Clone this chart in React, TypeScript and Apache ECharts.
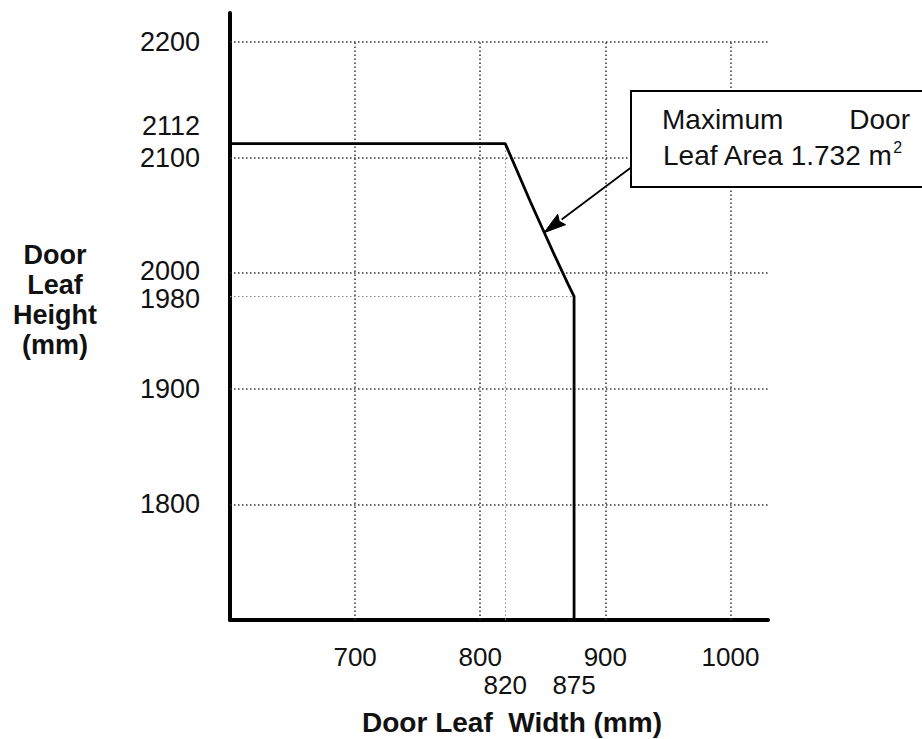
import React, { useEffect, useRef } from "react";
import * as echarts from "echarts";

// Limit curve (door leaf width, height) in mm
const widths = [600, 820, 830, 840, 850, 860, 870, 875, 875];
const heights = [2112, 2112, 2087, 2062, 2038, 2014, 1991, 1980, 1700];

// Tick labels
const xTickLabels = [700, 800, 900, 1000];
const xExtraTicks = [820, 875];
const yTickLabels = [1800, 1900, 2000, 2100, 2200];
const yExtraTicks = [2112, 1980];

// Grid lines
const gridX = [700, 800, 900, 1000];
const gridY = [1800, 1900, 2000, 2100, 2200];

// Axis ranges
const xMin = 600;
const xMax = 1030;
const yMin = 1700;
const yMax = 2225;

// Annotation arrow (start at box edge, tip at curve): [x0, y0, x1, y1]
const arrowFrom = [920, 2091];
const arrowTo = [851, 2035];

const FONT = "'Liberation Sans', Arial, sans-serif";

export default function App() {
  const ref = useRef<HTMLDivElement>(null);

  useEffect(() => {
    if (!ref.current) return;
    const chart = echarts.init(ref.current, null, { renderer: "svg" });

    const dotted = { type: [1.5, 2.5] as any, color: "#333", width: 1.5 };
    const dottedLight = { type: [1.5, 2.5] as any, color: "#888", width: 1 };

    const gridLines: any[] = [];
    gridX.forEach((x) =>
      gridLines.push([
        { coord: [x, yMin], lineStyle: dotted },
        { coord: [x, 2200] },
      ])
    );
    gridY.forEach((y) =>
      gridLines.push([
        { coord: [xMin, y], lineStyle: dotted },
        { coord: [xMax, y] },
      ])
    );
    gridLines.push([
      { coord: [xExtraTicks[0], yMin], lineStyle: dottedLight },
      { coord: [xExtraTicks[0], yExtraTicks[0]] },
    ]);
    gridLines.push([
      { coord: [xMin, yExtraTicks[1]], lineStyle: dottedLight },
      { coord: [xExtraTicks[1], yExtraTicks[1]] },
    ]);

    const yValues = [...yTickLabels, ...yExtraTicks].sort((a, b) => a - b);

    chart.setOption({
      animation: false,
      backgroundColor: "#fff",
      grid: { left: 230, right: 154, top: 13, bottom: 119 },
      xAxis: [
        {
          type: "value",
          min: xMin,
          max: xMax,
          axisLine: { show: true, lineStyle: { color: "#000", width: 4 } },
          axisTick: { show: false },
          splitLine: { show: false },
          axisLabel: {
            customValues: xTickLabels,
            margin: 24,
            fontSize: 26,
            fontFamily: FONT,
            color: "#111",
            formatter: (v: number) => String(v),
          },
        },
        {
          type: "value",
          min: xMin,
          max: xMax,
          position: "bottom",
          offset: 28,
          axisLine: { show: false },
          axisTick: { show: false },
          splitLine: { show: false },
          axisLabel: {
            customValues: xExtraTicks,
            margin: 24,
            fontSize: 26,
            fontFamily: FONT,
            color: "#111",
            formatter: (v: number) => String(v),
          },
        },
      ],
      yAxis: {
        type: "value",
        min: yMin,
        max: yMax,
        axisLine: { show: true, lineStyle: { color: "#000", width: 4 } },
        axisTick: { show: false },
        splitLine: { show: false },
        axisLabel: {
          customValues: yValues,
          margin: 30,
          fontSize: 27,
          lineHeight: 22,
          fontFamily: FONT,
          color: "#111",
          formatter: (v: number) => {
            if (v === yExtraTicks[0]) return "{up|" + v + "}";
            if (v === yExtraTicks[1]) return "{dn|" + v + "}";
            if (v === 2000) return "{up2|" + v + "}";
            return String(v);
          },
          rich: {
            up: { fontSize: 27, fontFamily: FONT, color: "#111", lineHeight: 22, padding: [0, 0, 36, 0] },
            dn: { fontSize: 27, fontFamily: FONT, color: "#111", lineHeight: 22, padding: [6, 0, 0, 0] },
            up2: { fontSize: 27, fontFamily: FONT, color: "#111", lineHeight: 22, padding: [0, 0, 4, 0] },
          },
        },
      },
      series: [
        {
          type: "line",
          name: "grid",
          data: [],
          silent: true,
          z: 1,
          markLine: {
            silent: true,
            symbol: ["none", "none"],
            label: { show: false },
            data: gridLines,
          },
        },
        {
          type: "line",
          name: "limit",
          data: widths.map((w, i) => [w, heights[i]]),
          symbol: "none",
          lineStyle: { color: "#000", width: 2.8 },
          z: 5,
        },
        {
          type: "custom",
          name: "arrow",
          silent: true,
          z: 6,
          data: [[arrowFrom[0], arrowFrom[1], arrowTo[0], arrowTo[1]]],
          renderItem: (params: any, api: any) => {
            const p0 = api.coord([api.value(0), api.value(1)]);
            const p1 = api.coord([api.value(2), api.value(3)]);
            const dx = p1[0] - p0[0];
            const dy = p1[1] - p0[1];
            const len = Math.sqrt(dx * dx + dy * dy);
            const ux = dx / len;
            const uy = dy / len;
            const headLen = 22;
            const halfW = 6.5;
            const bx = p1[0] - ux * headLen;
            const by = p1[1] - uy * headLen;
            return {
              type: "group",
              children: [
                {
                  type: "line",
                  shape: { x1: p0[0], y1: p0[1], x2: bx, y2: by },
                  style: { stroke: "#000", lineWidth: 1.8 },
                },
                {
                  type: "polygon",
                  shape: {
                    points: [
                      [p1[0], p1[1]],
                      [bx - uy * halfW, by + ux * halfW],
                      [bx + ux * 3, by + uy * 3],
                      [bx + uy * halfW, by - ux * halfW],
                    ],
                  },
                  style: { fill: "#000", stroke: "#000", lineWidth: 1 },
                },
              ],
            };
          },
        },
      ],
      graphic: [
        {
          type: "rect",
          z: 100,
          shape: { x: 631, y: 91, width: 300, height: 96 },
          style: { fill: "#fff", stroke: "#000", lineWidth: 2 },
        },
        {
          type: "text",
          z: 101,
          x: 662,
          y: 119,
          style: {
            text: "Maximum",
            font: `28px ${FONT}`,
            fill: "#111",
            textAlign: "left",
            textVerticalAlign: "middle",
          },
        },
        {
          type: "text",
          z: 101,
          x: 910,
          y: 119,
          style: {
            text: "Door",
            font: `28px ${FONT}`,
            fill: "#111",
            textAlign: "right",
            textVerticalAlign: "middle",
          },
        },
        {
          type: "text",
          z: 101,
          x: 663,
          y: 139,
          style: {
            text: "{a|Leaf Area 1.732 m}{s|2}",
            fill: "#111",
            textAlign: "left",
            textVerticalAlign: "top",
            rich: {
              a: { fontSize: 28, fontFamily: FONT, lineHeight: 30, verticalAlign: "bottom" },
              s: { fontSize: 16, fontFamily: FONT, lineHeight: 30, verticalAlign: "top", padding: [0, 0, 10, 0] },
            },
          },
        },
        {
          type: "text",
          x: 55,
          y: 240,
          style: {
            text: "Door\nLeaf\nHeight\n(mm)",
            font: `bold 27px ${FONT}`,
            lineHeight: 30,
            fill: "#111",
            textAlign: "center",
            textVerticalAlign: "top",
          },
        },
        {
          type: "text",
          x: 512,
          y: 722,
          style: {
            text: "Door Leaf  Width (mm)",
            font: `bold 28px ${FONT}`,
            fill: "#111",
            textAlign: "center",
            textVerticalAlign: "middle",
          },
        },
      ],
    });

    return () => chart.dispose();
  }, []);

  return (
    <div
      ref={ref}
      style={{ position: "fixed", left: 0, top: 0, width: 922, height: 739, background: "#fff" }}
    />
  );
}
